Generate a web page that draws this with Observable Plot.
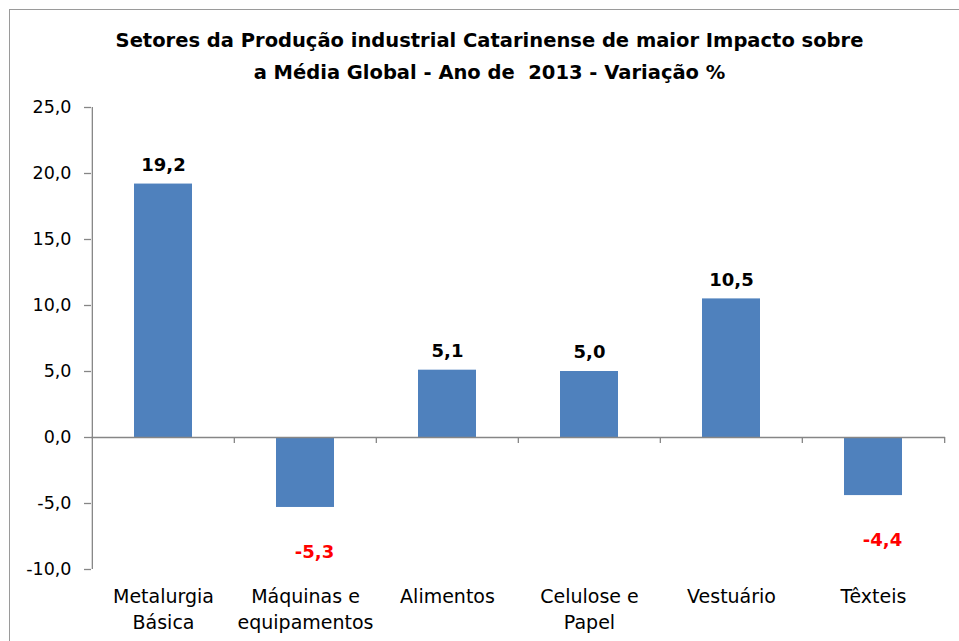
<!DOCTYPE html>
<html>
<head>
<meta charset="utf-8">
<script src="https://cdn.jsdelivr.net/npm/d3@7"></script>
<script src="https://cdn.jsdelivr.net/npm/@observablehq/plot@0.6"></script>
<style>
  html, body { margin: 0; padding: 0; background: #fff; }
  #wrap { position: relative; width: 959px; height: 641px; overflow: hidden; background: #fff; }
  #border { position: absolute; left: 9px; top: 9px; width: 1000px; height: 1000px; border: 1.5px solid #9a9a9a; box-sizing: border-box; }
  #title { position: absolute; left: 0; top: 25px; width: 979px; text-align: center;
           font-family: "DejaVu Sans", sans-serif; font-weight: bold; font-size: 19.5px; line-height: 32px; color: #000; }
  #chart { position: absolute; left: 0; top: 0; }
</style>
</head>
<body>
<div id="wrap">
  <div id="border"></div>
  <div id="chart"></div>
  <div id="title">Setores da Produção industrial Catarinense de maior Impacto sobre<br>a Média Global - Ano de&nbsp; 2013 - Variação %</div>
</div>
<script>
const categories = ["Metalurgia\nBásica", "Máquinas e\nequipamentos", "Alimentos", "Celulose e\nPapel", "Vestuário", "Têxteis"];
const values = [19.2, -5.3, 5.1, 5.0, 10.5, -4.4];
const yTicks = [-10, -5, 0, 5, 10, 15, 20, 25];
const yDomain = [-10, 25];

const data = categories.map((c, i) => ({cat: c, value: values[i]}));
const fmt = d => d.toFixed(1).replace(".", ",");

const W = 959, H = 641;
const mL = 91, mR = 14, mT = 107, mB = 72;
const pInner = 0.59, pOuter = 0.295;
const step = (W - mL - mR) / (categories.length - pInner + 2 * pOuter);
const half = step / 2;
const gray = "#868686";

const chart = Plot.plot({
  width: W,
  height: H,
  marginLeft: mL,
  marginRight: mR,
  marginTop: mT,
  marginBottom: mB,
  style: {fontFamily: "DejaVu Sans, sans-serif", background: "transparent", color: "#000"},
  x: {domain: categories, paddingInner: pInner, paddingOuter: pOuter, label: null},
  y: {domain: yDomain, label: null},
  marks: [
    Plot.barY(data, {x: "cat", y: "value", fill: "#4F81BD"}),
    Plot.ruleY([0], {stroke: gray, strokeWidth: 1.3}),
    Plot.ruleX([categories[0]], {dx: -half, y1: yDomain[0], y2: yDomain[1], stroke: gray, strokeWidth: 1.3}),
    Plot.ruleX(categories.slice(1), {dx: -half, y1: 0, y2: -0.45, stroke: gray, strokeWidth: 1.3}),
    Plot.ruleX([categories[categories.length - 1]], {dx: half, y1: 0, y2: -0.45, stroke: gray, strokeWidth: 1.3}),
    Plot.axisY({ticks: yTicks, tickSize: 7, tickPadding: 13, tickFormat: fmt, fontSize: 17.5, stroke: gray, strokeWidth: 1.3, label: null}),
    Plot.axisX({tickSize: 0, tickPadding: 15, fontSize: 19, lineHeight: 1.38, label: null}),
    Plot.text(data.filter(d => d.value >= 0), {x: "cat", y: "value", text: d => fmt(d.value), dy: -19, fontSize: 18, fontWeight: "bold", fill: "#000"}),
    Plot.text(data.filter(d => d.value < 0), {x: "cat", y: "value", text: d => fmt(d.value), dy: 45, dx: 9, fontSize: 18, fontWeight: "bold", fill: "#FF0000"})
  ]
});
document.getElementById("chart").appendChild(chart);
</script>
</body>
</html>
